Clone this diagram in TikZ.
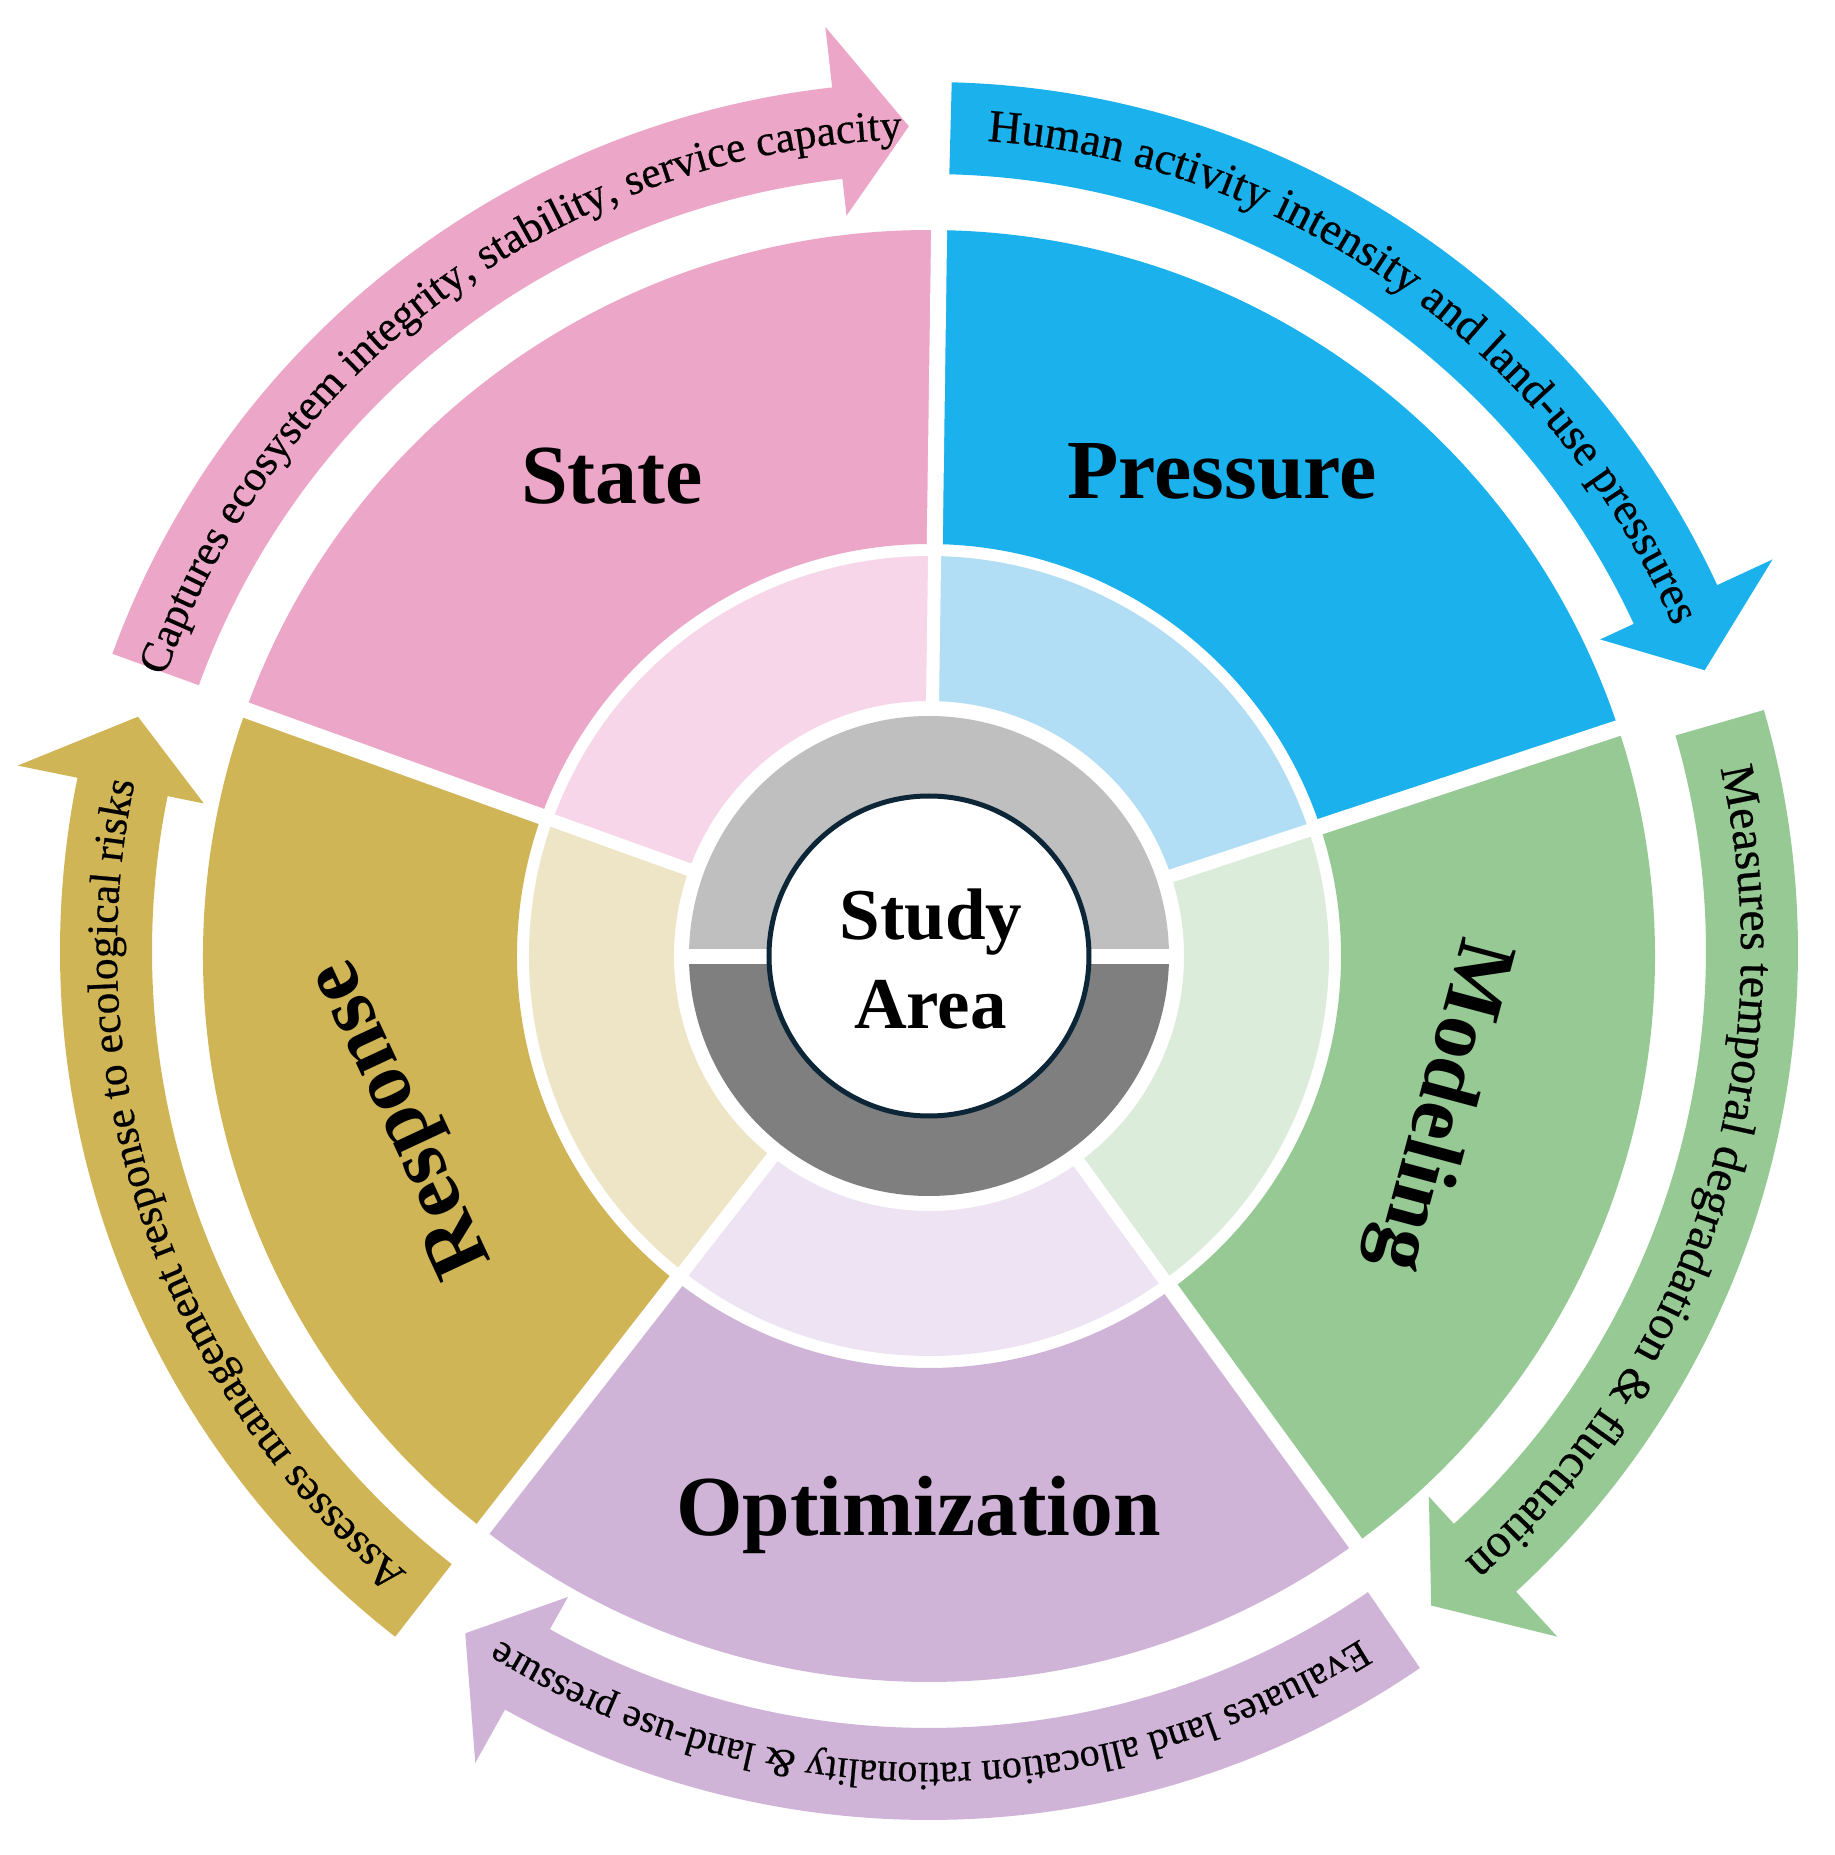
\documentclass[tikz,border=0pt]{standalone}
\usepackage{fontspec}
\setmainfont{Liberation Serif}
\newfontfamily\arcfamily{Liberation Serif}[FakeBold=0.5]
\usetikzlibrary{decorations.text}
\definecolor{statepink}{RGB}{236,167,200}
\definecolor{statepale}{RGB}{247,214,233}
\definecolor{pressblue}{RGB}{27,177,236}
\definecolor{presspale}{RGB}{178,222,245}
\definecolor{modgreen}{RGB}{150,201,148}
\definecolor{modpale}{RGB}{219,236,218}
\definecolor{optpurple}{RGB}{208,180,216}
\definecolor{optpale}{RGB}{238,227,242}
\definecolor{respgold}{RGB}{208,181,86}
\definecolor{resppale}{RGB}{237,229,197}
\definecolor{lgray}{RGB}{191,191,191}
\definecolor{dgray}{RGB}{127,127,127}
\definecolor{navyline}{RGB}{12,38,56}
% annular sector: colour, angle1, angle2, r1, r2
\newcommand\ringsector[5]{%
  \fill[#1] ({#2}:#4) arc[start angle={#2}, end angle={#3}, radius=#4] -- ({#3}:#5) arc[start angle={#3}, end angle={#2}, radius=#5] -- cycle;}
% circular arrow: tail angle, colour
\newcommand\cirarrow[2]{%
  \fill[#2] ({#1}:869) arc[start angle={#1}, end angle={#1-63.6}, radius=869] -- ({#1-63.6}:930) -- ({#1-68.6}:825) -- ({#1-63.6}:740) -- ({#1-63.6}:777) arc[start angle={#1-63.6}, end angle={#1}, radius=777] -- cycle;}
% curved text: centre angle, font size, text
\newcommand\arctext[3]{%
  \path[decorate, decoration={text along path, text align=center, text={|\arcfamily\fontsize{#2}{#2}\selectfont|#3}}] ({#1+40}:812) arc[start angle={#1+40}, end angle={#1-40}, radius=812];}
\tikzset{
  mainlabel/.style={font=\bfseries\fontsize{84}{90}\selectfont, inner sep=0pt},
  centrelabel/.style={font=\bfseries\fontsize{73}{80}\selectfont, inner sep=0pt},
  gapline/.style={draw=white, line width=16},
  palegap/.style={draw=white, line width=13}
}
\begin{document}
\begin{tikzpicture}[x=1pt, y=1pt]
\useasboundingbox (-929,-899) rectangle (905,956);
\fill[white] (-929,-899) rectangle (905,956);
% outer circular arrows
\begin{scope}[shift={(0,5)}]
  \cirarrow{160}{statepink}
  \cirarrow{88.5}{pressblue}
  \cirarrow{16.1}{modgreen}
  \cirarrow{-55.6}{optpurple}
  \cirarrow{-127.9}{respgold}
  \arctext{126.1}{43.5}{Captures ecosystem integrity, stability, service capacity}
  \arctext{54.75}{46}{Human activity intensity and land-use pressures}
  \arctext{-17.85}{48}{Measures temporal degradation {\&} fluctuation}
  \arctext{-89.9}{40}{Evaluates land allocation rationality {\&} land-use pressure}
  \arctext{-161}{43.5}{Assesses management response to ecological risks}
\end{scope}
% main ring
\ringsector{statepink}{89.2}{160.2}{412}{726}
\ringsector{pressblue}{18.3}{89.2}{412}{726}
\ringsector{modgreen}{-54}{18.3}{412}{726}
\ringsector{optpurple}{-127.9}{-54}{412}{726}
\ringsector{respgold}{160.2}{232.1}{412}{726}
% pale ring
\ringsector{statepale}{89.2}{160.2}{255}{400}
\ringsector{presspale}{18.3}{89.2}{255}{400}
\ringsector{modpale}{-54}{18.3}{255}{400}
\ringsector{optpale}{-127.9}{-54}{255}{400}
\ringsector{resppale}{160.2}{232.1}{255}{400}
% white gaps
\foreach \a in {89.2,18.3,-54,-127.9,160.2}{
  \path[gapline] (\a:405) -- (\a:734);
  \path[palegap] (\a:247) -- (\a:406);
}
% grey ring
\fill[lgray] (240,0) arc[start angle=0, end angle=180, radius=240] -- cycle;
\fill[dgray] (-240,0) arc[start angle=180, end angle=360, radius=240] -- cycle;
\fill[white] (-245,-8.5) rectangle (245,6.5);
\draw[navyline, line width=5, fill=white] (0,0) circle[radius=160];
% labels
\node[mainlabel, anchor=base] (state) at (-317,452.5) {State};
\node[mainlabel, anchor=base] (pressure) at (293,457) {Pressure};
\node[mainlabel, anchor=base, rotate=-105] (modeling) at (490,-144) {Modeling};
\node[mainlabel, anchor=base, font=\bfseries\fontsize{85.5}{90}\selectfont] (optimization) at (-10.5,-579) {Optimization};
\node[mainlabel, anchor=base, rotate=115] (response) at (-509,-153) {Response};
\node[centrelabel, anchor=base] (study) at (2,16) {Study};
\node[centrelabel, anchor=base] (area) at (1.5,-72) {Area};
\end{tikzpicture}
\end{document}
